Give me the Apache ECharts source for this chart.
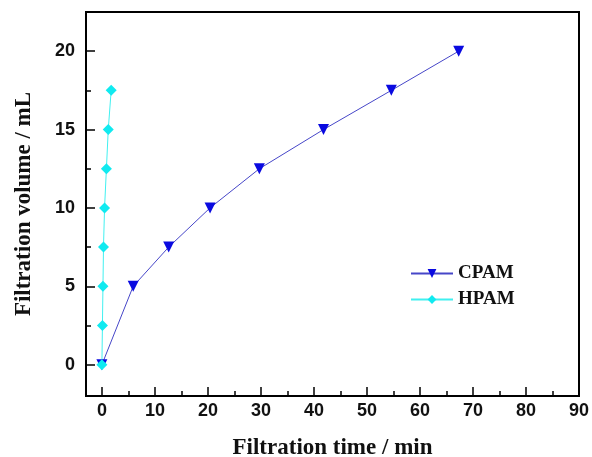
<!DOCTYPE html>
<html><head><meta charset="utf-8">
<script src="https://cdn.jsdelivr.net/npm/echarts@6/dist/echarts.min.js"></script>
<style>html,body{margin:0;padding:0;background:#fff}#c{width:592px;height:457px}</style>
</head><body><div id="c"></div>
<script>
const cpamTime = [0, 5.9, 12.6, 20.4, 29.7, 41.8, 54.6, 67.3];
const cpamVolume = [0, 5, 7.5, 10, 12.5, 15, 17.5, 20];
const hpamTime = [0, 0.1, 0.2, 0.3, 0.5, 0.85, 1.2, 1.75];
const hpamVolume = [0, 2.5, 5, 7.5, 10, 12.5, 15, 17.5];
const xMajor = [0, 10, 20, 30, 40, 50, 60, 70, 80, 90];
const xMinor = [5, 15, 25, 35, 45, 55, 65, 75, 85];
const yMajor = [0, 5, 10, 15, 20];
const yMinor = [2.5, 7.5, 12.5, 17.5];

const zip = (a, b) => a.map((v, i) => [v, b[i]]);
const chart = echarts.init(document.getElementById('c'));
const labelFont = {fontFamily: 'Liberation Sans', fontWeight: 'bold', fontSize: 18, color: '#111'};
const nameFont = {fontFamily: 'Liberation Serif', fontWeight: 'bold', fontSize: 23, color: '#111'};
const xr = {min: -3, max: 90, interval: 1}, yr = {min: -2, max: 22.5, interval: 0.5};
chart.setOption({
  animation: false,
  grid: {left: 86, right: 13, top: 12, bottom: 61, outerBoundsMode: 'none', containLabel: false,
    show: true, borderColor: '#000', borderWidth: 2, backgroundColor: 'transparent'},
  xAxis: [
    Object.assign({type: 'value', name: 'Filtration time / min', nameLocation: 'middle', nameGap: 41, nameTextStyle: nameFont,
      axisLine: {show: true, onZero: false, lineStyle: {color: '#000', width: 2}},
      axisTick: {show: true, inside: true, length: 9, customValues: xMajor, lineStyle: {color: '#000', width: 1.5}},
      axisLabel: Object.assign({customValues: xMajor, margin: 6}, labelFont),
      splitLine: {show: false}}, xr),
    Object.assign({type: 'value', position: 'bottom', axisLine: {show: false, onZero: false},
      axisTick: {show: true, inside: true, length: 5, customValues: xMinor, lineStyle: {color: '#000', width: 1.5}},
      axisLabel: {show: false}, splitLine: {show: false}}, xr)
  ],
  yAxis: [
    Object.assign({type: 'value', name: 'Filtration volume / mL', nameLocation: 'middle', nameGap: 50, nameTextStyle: nameFont,
      axisLine: {show: true, onZero: false, lineStyle: {color: '#000', width: 2}},
      axisTick: {show: true, inside: true, length: 9, customValues: yMajor, lineStyle: {color: '#000', width: 1.5}},
      axisLabel: Object.assign({customValues: yMajor, margin: 11}, labelFont),
      splitLine: {show: false}}, yr),
    Object.assign({type: 'value', position: 'left', axisLine: {show: false, onZero: false},
      axisTick: {show: true, inside: true, length: 5, customValues: yMinor, lineStyle: {color: '#000', width: 1.5}},
      axisLabel: {show: false}, splitLine: {show: false}}, yr)
  ],
  legend: {orient: 'vertical', left: 405, top: 259, itemWidth: 42, itemHeight: 11, itemGap: 7,
    textStyle: {fontFamily: 'Liberation Serif', fontWeight: 'bold', fontSize: 19, color: '#111'},
    data: ['CPAM', 'HPAM']},
  series: [
    {name: 'CPAM', type: 'line', data: zip(cpamTime, cpamVolume), symbol: 'triangle', symbolRotate: 180, symbolSize: 11,
      itemStyle: {color: '#0a0ae0'}, lineStyle: {color: '#4646c8', width: 1}},
    {name: 'HPAM', type: 'line', data: zip(hpamTime, hpamVolume), symbol: 'diamond', symbolSize: 11,
      itemStyle: {color: '#10eaf0'}, lineStyle: {color: '#40f0f0', width: 1}}
  ]
});
</script></body></html>
